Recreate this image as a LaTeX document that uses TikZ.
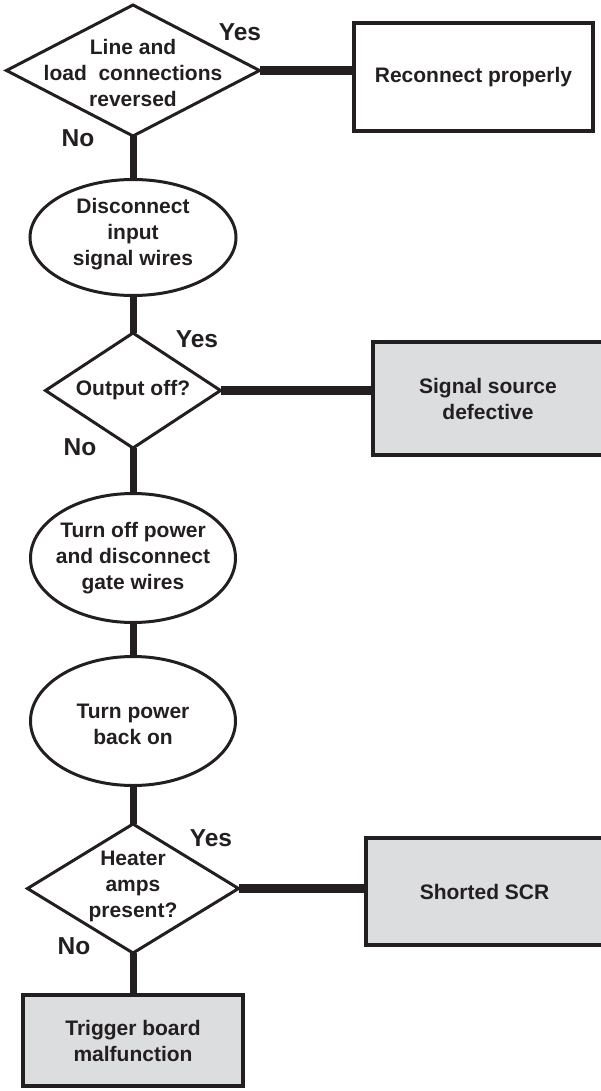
\documentclass[tikz,border=0pt]{standalone}
\usepackage{fontspec}
\setmainfont{Liberation Sans}
\usetikzlibrary{shapes.geometric}
\usetikzlibrary{positioning}
\definecolor{ink}{HTML}{231F20}
\definecolor{shade}{HTML}{DCDDDE}

\tikzset{
  decision/.style={diamond, draw=ink, line width=3pt, inner sep=0pt, outer sep=0pt},
  action/.style={ellipse, draw=ink, line width=3pt, inner sep=0pt, outer sep=0pt},
  result/.style={rectangle, draw=ink, line width=3.5pt, outer sep=0pt, align=center, text=ink,
    font=\fontsize{21}{26}\selectfont\bfseries},
  fault/.style={result, fill=shade},
  txt/.style={align=center, inner sep=0pt, text=ink, font=\fontsize{21}{26}\selectfont\bfseries},
  answer/.style={inner sep=0pt, text=ink, font=\fontsize{24.5}{28}\selectfont\bfseries},
  vlink/.style={draw=ink, line width=7pt},
  hlink/.style={draw=ink, line width=9pt},
}

\begin{document}
\begin{tikzpicture}[x=1pt, y=-1pt]
        \useasboundingbox (0,0) rectangle (601,1091);
        \clip (0,0) rectangle (601,1091);

        \node[decision, minimum width=253pt, minimum height=131pt] (q1) at (133,70.5) {};
        \node[action, below=43.5pt of q1, minimum width=206pt, minimum height=116pt] (e1) {};
        \node[decision, below=37.5pt of e1, minimum width=175pt, minimum height=115pt] (q2) {};
        \node[action, below=45.5pt of q2, minimum width=205pt, minimum height=129pt] (e2) {};
        \node[action, below=34pt of e2, minimum width=205pt, minimum height=129pt] (e3) {};
        \node[decision, below=38.5pt of e3, minimum width=211pt, minimum height=129pt] (q3) {};
        \node[fault, below=42pt of q3, minimum width=220pt, minimum height=91pt] (b4) {Trigger board\\malfunction};

        \node[txt, yshift=-2pt] (q1txt) at (q1) {Line and\\load~~connections\\reversed};
        \node[txt, yshift=3pt]  (e1txt) at (e1) {Disconnect\\input\\signal wires};
        \node[txt]              (q2txt) at (q2) {Output off?};
        \node[txt]              (e2txt) at (e2) {Turn off power\\and disconnect\\gate wires};
        \node[txt, yshift=-3pt] (e3txt) at (e3) {Turn power\\back on};
        \node[txt, yshift=2pt]  (q3txt) at (q3) {Heater\\amps\\present?};

        \node[result, right=94.5pt of q1, yshift=-6.5pt, minimum width=239pt, minimum height=108pt] (b1) {Reconnect properly};
        \node[fault, right=152.5pt of q2, yshift=-8pt, minimum width=230pt, minimum height=113pt] (b2) {Signal source\\defective};
        \node[fault, right=127.5pt of q3, yshift=-3pt, minimum width=237pt, minimum height=107pt] (b3) {Shorted SCR};

        \node[answer] (yes1) at (240,32)  {Yes};
        \node[answer] (no1)  at (78,138)  {No};
        \node[answer] (yes2) at (197,339) {Yes};
        \node[answer] (no2)  at (80,447)  {No};
        \node[answer] (yes3) at (211,838) {Yes};
        \node[answer] (no3)  at (74,946)  {No};

        \draw[vlink] (q1) -- (e1);
        \draw[vlink] (e1) -- (q2);
        \draw[vlink] (q2) -- (e2);
        \draw[vlink] (e2) -- (e3);
        \draw[vlink] (e3) -- (q3);
        \draw[vlink] (q3) -- (b4);

        \draw[hlink] (q1.east) -- (q1.east -| b1.west);
        \draw[hlink] (q2.east) -- (q2.east -| b2.west);
        \draw[hlink] (q3.east) -- (q3.east -| b3.west);
      \end{tikzpicture}
\end{document}
